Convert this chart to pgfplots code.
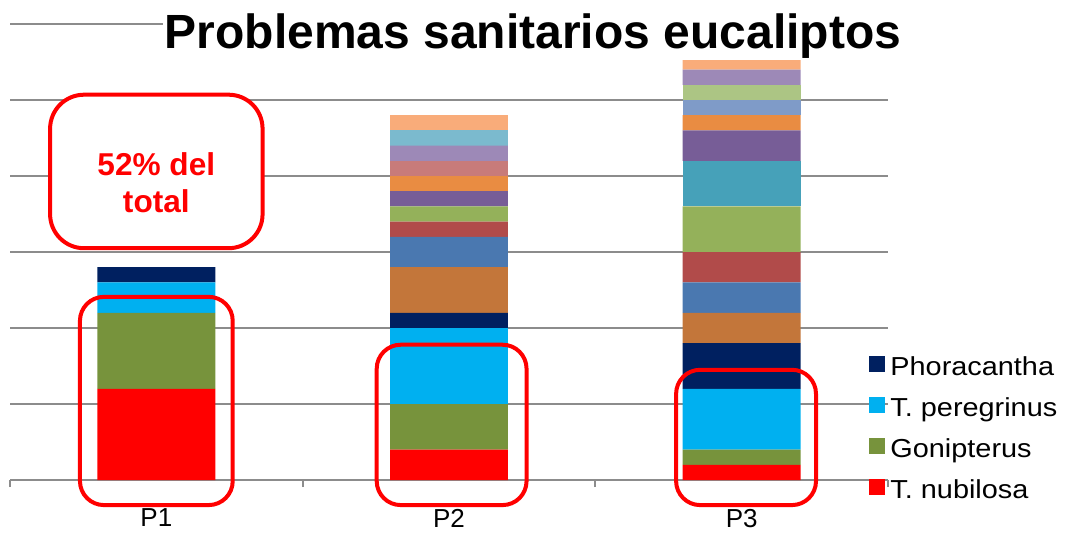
\documentclass[border=0pt]{standalone}
\usepackage{pgfplots}
\pgfplotsset{compat=1.18}
\usepackage{fontspec}
\setmainfont{Liberation Sans}
\usepackage{graphicx}
\definecolor{gridgray}{HTML}{8C8C8C}
\definecolor{cNub}{HTML}{FF0000}
\definecolor{cGon}{HTML}{77933C}
\definecolor{cPer}{HTML}{00B0F0}
\definecolor{cPho}{HTML}{002060}
\definecolor{cBrown}{HTML}{C3763A}
\definecolor{cBlue}{HTML}{4A78B0}
\definecolor{cRedb}{HTML}{B14B4A}
\definecolor{cGreen}{HTML}{94B15A}
\definecolor{cTeal}{HTML}{46A1B9}
\definecolor{cPurple}{HTML}{775D97}
\definecolor{cOrange}{HTML}{E98C42}
\definecolor{cPink}{HTML}{C87B7A}
\definecolor{cLtBlue}{HTML}{7F9BC8}
\definecolor{cLtGreen}{HTML}{ACC584}
\definecolor{cLavender}{HTML}{9D89B7}
\definecolor{cLtTeal}{HTML}{7BBACE}
\definecolor{cPeach}{HTML}{F9AC7A}
\newcommand{\legtxt}[1]{\hspace{2.5pt}\rule[-3pt]{0pt}{12.5pt}\scalebox{1.11}[1]{#1}}
\begin{document}
\begin{tikzpicture}
\useasboundingbox (-5pt,-26pt) rectangle (528pt,240pt);
\begin{axis}[
  at={(0pt,0pt)}, anchor=south west,
  scale only axis, width=439pt, height=228pt,
  xmin=-0.5, xmax=2.5, ymin=0, ymax=60,
  ybar stacked, bar width=0.403,
  clip=false,
  axis lines*=left,
  x axis line style={gridgray, line width=1pt},
  y axis line style={draw=none},
  xtick={0,1,2}, xticklabels={P1,P2,P3},
  major tick length=0pt,
  minor xtick={-0.5,0.5,1.5,2.5},
  minor tick length=3.5pt, tick align=outside,
  minor x tick style={gridgray, line width=1pt},
  major x tick style={draw=none},
  ytick={0,10,...,60}, yticklabels={},
  ytick style={draw=none},
  ymajorgrids, grid style={gridgray, line width=1pt},
  xticklabel style={font=\fontsize{13}{15}\selectfont, yshift=-11pt},
  every axis plot/.append style={draw=none},
  legend style={draw=none, fill=none, at={(0.9784,0.272)}, anchor=north west,
    inner sep=0pt, row sep=9.5pt,
    font=\fontsize{13}{15}\selectfont,
    nodes={inner sep=0pt}},
  legend cell align=left,
  legend image code/.code={\fill[#1] (0pt,-2.5pt) rectangle (8pt,5.5pt);},
]
\addlegendimage{fill=cPho, draw=none}
\addlegendimage{fill=cPer, draw=none}
\addlegendimage{fill=cGon, draw=none}
\addlegendimage{fill=cNub, draw=none}
\legend{\legtxt{Phoracantha}, \legtxt{T. peregrinus}, \legtxt{Gonipterus}, \legtxt{T. nubilosa}}
\addplot[fill=cNub] coordinates {(0,12) (1,4) (2,2)};
\addplot[fill=cGon] coordinates {(0,10) (1,6) (2,2)};
\addplot[fill=cPer] coordinates {(0,4) (1,10) (2,8)};
\addplot[fill=cPho] coordinates {(0,2) (1,2) (2,6)};
\addplot[fill=cBrown] coordinates {(0,0) (1,6) (2,4)};
\addplot[fill=cBlue] coordinates {(0,0) (1,4) (2,4)};
\addplot[fill=cRedb] coordinates {(0,0) (1,2) (2,4)};
\addplot[fill=cGreen] coordinates {(0,0) (1,2) (2,6)};
\addplot[fill=cTeal] coordinates {(0,0) (1,0) (2,6)};
\addplot[fill=cPurple] coordinates {(0,0) (1,2) (2,4)};
\addplot[fill=cOrange] coordinates {(0,0) (1,2) (2,2)};
\addplot[fill=cPink] coordinates {(0,0) (1,2) (2,0)};
\addplot[fill=cLtBlue] coordinates {(0,0) (1,0) (2,2)};
\addplot[fill=cLtGreen] coordinates {(0,0) (1,0) (2,2)};
\addplot[fill=cLavender] coordinates {(0,0) (1,2) (2,2)};
\addplot[fill=cLtTeal] coordinates {(0,0) (1,2) (2,0)};
\addplot[fill=cPeach] coordinates {(0,0) (1,2) (2,2)};
\coordinate (b1a) at (axis cs:-0.261,-3.3);
\coordinate (b1b) at (axis cs:0.261,24.1);
\coordinate (b2a) at (axis cs:0.753,-3.3);
\coordinate (b2b) at (axis cs:1.265,17.8);
\coordinate (b3a) at (axis cs:1.776,-3.3);
\coordinate (b3b) at (axis cs:2.254,14.5);
\coordinate (tba) at (axis cs:-0.363,30.5);
\coordinate (tbb) at (axis cs:0.363,50.7);
\coordinate (tbc) at (axis cs:0,39.1);
\end{axis}
\draw[red, line width=2pt, rounded corners=12pt] (b1a) rectangle (b1b);
\draw[red, line width=2pt, rounded corners=12pt] (b2a) rectangle (b2b);
\draw[red, line width=2pt, rounded corners=12pt] (b3a) rectangle (b3b);
\draw[red, line width=2pt, rounded corners=17pt, fill=white] (tba) rectangle (tbb);
\node[text=red, font=\bfseries\fontsize{15.8}{18.5}\selectfont, align=center] at (tbc) {52\% del\\total};
\node[anchor=base, fill=white, inner sep=1pt, font=\bfseries\fontsize{24}{28}\selectfont] at (261.5pt,216pt) {Problemas sanitarios eucaliptos};
\end{tikzpicture}
\end{document}
